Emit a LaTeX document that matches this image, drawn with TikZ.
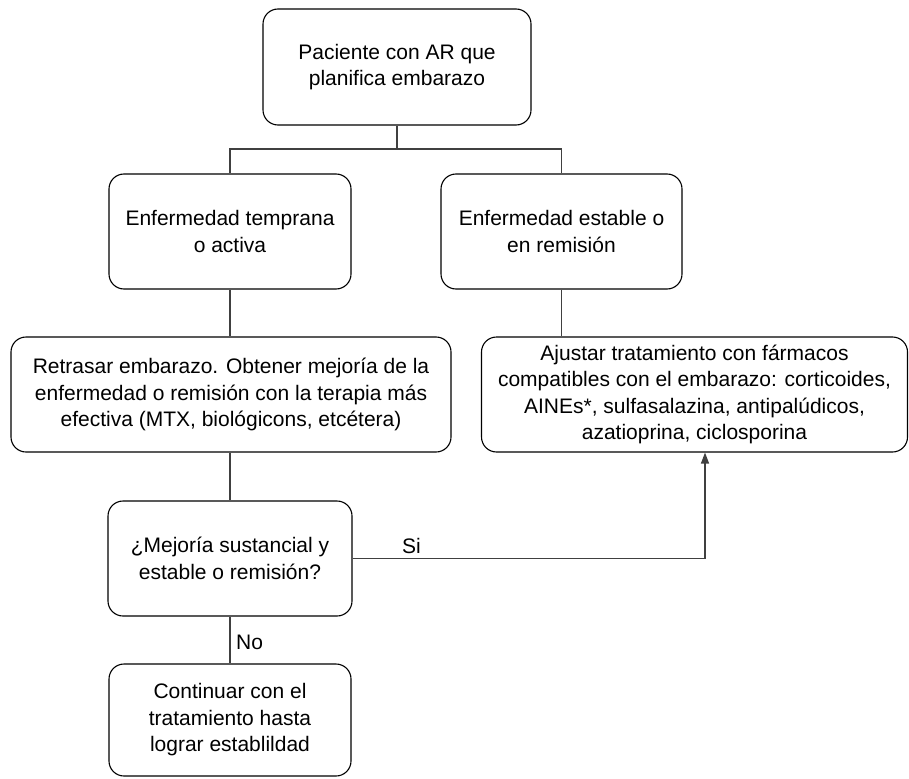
\documentclass[tikz,border=0pt]{standalone}
\usepackage{fontspec}
\setmainfont{Liberation Sans}
\usetikzlibrary{arrows.meta}
\begin{document}
\begin{tikzpicture}[x=1pt,y=-1pt,
  box/.style={draw=black, line width=1.1pt, rounded corners=15pt, align=center,
    inner sep=0pt, font=\fontsize{21}{26.5}\selectfont},
  link/.style={draw=black!75, line width=1.2pt},
  arr/.style={link, -{Triangle[width=8pt,length=11pt]}},
  lab/.style={font=\fontsize{21}{26}\selectfont, inner sep=0pt}]
\useasboundingbox (0,0) rectangle (909,778);
\node[box, minimum width=268pt, minimum height=116pt] (top) at (397,67) {Paciente con AR que\\planifica embarazo};
\node[box, minimum width=242pt, minimum height=115pt] (left) at (230,231.5) {Enfermedad temprana\\o activa};
\node[box, minimum width=241pt, minimum height=115pt] (right) at (561.5,231.5) {Enfermedad estable o\\en remisión};
\node[box, minimum width=440pt, minimum height=115pt] (ret) at (231,394.5) {Retrasar embarazo. Obtener mejoría de la\\enfermedad o remisión con la terapia más\\efectiva (MTX, biológicons, etcétera)};
\node[box, minimum width=426pt, minimum height=115pt] (aju) at (694.5,394.5) {Ajustar tratamiento con fármacos\\compatibles con el embarazo: corticoides,\\AINEs*, sulfasalazina, antipalúdicos,\\azatioprina, ciclosporina};
\node[box, minimum width=244pt, minimum height=115pt] (mej) at (230,558.5) {¿Mejoría sustancial y\\estable o remisión?};
\node[box, minimum width=242pt, minimum height=112pt] (con) at (230,720) {Continuar con el\\tratamiento hasta\\lograr establildad};
\coordinate (j) at (397,149);
\coordinate (c) at (705,558.5);
\draw[link] (top.south) -- (j);
\draw[link] (left.north) |- (j) -| (right.north);
\draw[link] (left.south) -- (left.south |- ret.north);
\draw[link] (right.south) -- (right.south |- aju.north);
\draw[link] (ret.south -| mej.north) -- (mej.north);
\draw[arr] (mej.east) -| (c |- aju.south);
\draw[link] (mej.south) -- (con.north);
\node[lab, anchor=west] (si) at (402,546) {Si};
\node[lab, anchor=west] (no) at (236,642) {No};
\end{tikzpicture}
\end{document}
